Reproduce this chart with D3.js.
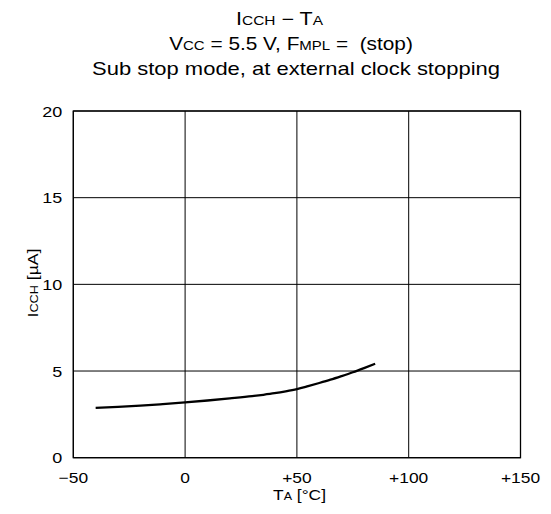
<!DOCTYPE html>
<html><head><meta charset="utf-8">
<script src="https://cdn.jsdelivr.net/npm/d3@7"></script>
<style>body{margin:0;background:#fff}svg{display:block}text{font-family:"Liberation Sans",Arial,sans-serif;fill:#000;white-space:pre}</style>
</head><body>
<svg id="c" width="551" height="514"></svg>
<script>
const temps = [-40, -30, -20, -10, 0, 10, 20, 30, 35, 40, 45, 50, 55, 60, 65, 70, 75, 80, 85];
const icch  = [2.87, 2.93, 3.0, 3.09, 3.19, 3.3, 3.42, 3.55, 3.63, 3.72, 3.83, 3.96, 4.13, 4.31, 4.5, 4.71, 4.93, 5.17, 5.42];
const xTicks = [-50, 0, 50, 100, 150];
const xTickLabels = ["\u221250", "0", "+50", "+100", "+150"];
const yTicks = [0, 5, 10, 15, 20];

const svg = d3.select("#c");
const L = 73.3, R = 520.5, T = 111, B = 457.7;
const x = d3.scaleLinear().domain([-50, 150]).range([L, R]);
const y = d3.scaleLinear().domain([0, 20]).range([B, T]);
const SX = 1.16;

// grid
svg.append("g").selectAll("line").data(xTicks).join("line")
  .attr("x1", d => x(d)).attr("x2", d => x(d)).attr("y1", T).attr("y2", B)
  .attr("stroke", "#000").attr("stroke-width", 1);
svg.append("g").selectAll("line").data(yTicks).join("line")
  .attr("x1", L).attr("x2", R).attr("y1", d => y(d)).attr("y2", d => y(d))
  .attr("stroke", "#000").attr("stroke-width", 1);
svg.append("rect").attr("x", L).attr("y", T).attr("width", R - L).attr("height", B - T)
  .attr("fill", "none").attr("stroke", "#000").attr("stroke-width", 1.3);

// tick labels
svg.append("g").selectAll("text").data(xTicks).join("text")
  .attr("transform", d => `translate(${x(d)},483) scale(${SX},1)`).attr("text-anchor", "middle")
  .attr("font-size", 15).text((d, i) => xTickLabels[i]);
svg.append("g").selectAll("text").data(yTicks).join("text")
  .attr("transform", d => `translate(${L - 11},${y(d) + 5.5}) scale(${SX},1)`).attr("text-anchor", "end")
  .attr("font-size", 15.5).text(d => d);

// curve
svg.append("path").datum(temps.map((t, i) => [t, icch[i]]))
  .attr("d", d3.line().x(d => x(d[0])).y(d => y(d[1])).curve(d3.curveMonotoneX))
  .attr("fill", "none").attr("stroke", "#000").attr("stroke-width", 2.3);

// titles
function sub(t, parts, fs) {
  parts.forEach(p => {
    t.append("tspan").attr("font-size", p[1] ? fs * 0.72 : fs).text(p[0]);
  });
}
function fit(t, cx, cy, w, rot) {
  const bw = t.node().getComputedTextLength();
  const s = w / bw;
  t.attr("transform", `translate(${cx},${cy})` + (rot ? " rotate(-90)" : "") + ` scale(${s},1)`);
}
const fs = 17.5;
const t1 = svg.append("text").attr("text-anchor", "middle");
sub(t1, [["I",0],["CCH",1],[" \u2212 T",0],["A",1]], fs);
fit(t1, 279.5, 25, 87);
const t2 = svg.append("text").attr("text-anchor", "middle");
sub(t2, [["V",0],["CC",1],[" = 5.5 V, F",0],["MPL",1],[" =  (stop)",0]], fs);
fit(t2, 291, 50, 244);
const t3 = svg.append("text").attr("text-anchor", "middle").attr("font-size", fs)
  .text("Sub stop mode, at external clock stopping");
fit(t3, 296, 75, 408);

// axis labels
const xl = svg.append("text").attr("text-anchor", "middle");
sub(xl, [["T",0],["A",1],[" [\u00b0C]",0]], 14);
fit(xl, 299.5, 500, 53);
const yl = svg.append("text").attr("text-anchor", "middle");
sub(yl, [["I",0],["CCH",1],[" [\u00b5A]",0]], 14);
fit(yl, 38, 283, 69, true);
</script>
</body></html>
